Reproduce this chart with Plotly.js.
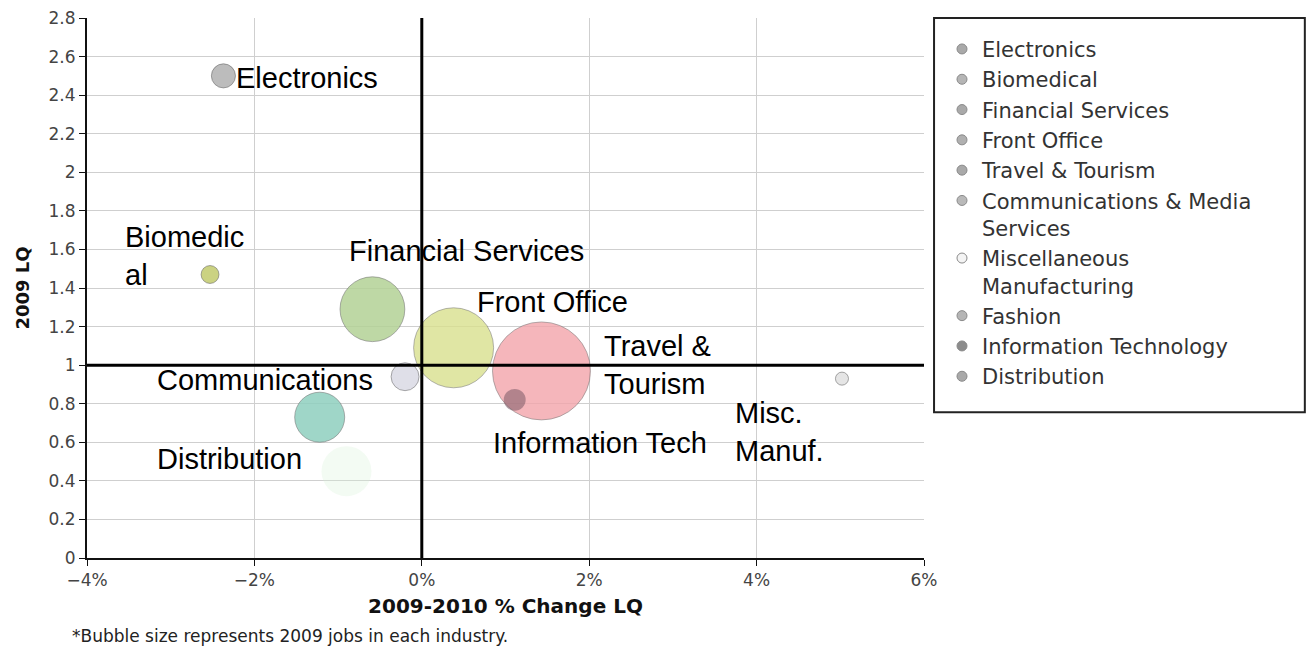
<!DOCTYPE html>
<html>
<head>
<meta charset="utf-8">
<script src="https://cdn.plot.ly/plotly-3.0.1.min.js"></script>
<style>html,body{margin:0;padding:0;background:#fff;}#chart{width:1308px;height:649px;}</style>
</head>
<body>
<div id="chart"></div>
<script>
// ---- data ----
const industries = ['Electronics','Biomedical','Financial Services','Front Office','Travel & Tourism','Communications & Media Services','Miscellaneous Manufacturing','Fashion','Information Technology','Distribution'];
const legendLabels = ['Electronics','Biomedical','Financial Services','Front Office','Travel & Tourism','Communications & Media<br>Services','Miscellaneous<br>Manufacturing','Fashion','Information Technology','Distribution'];
const changeLQ = [-2.37, -2.53, -0.59, 0.38, 1.43, -0.20, 5.02, -0.90, 1.11, -1.22];   // 2009-2010 % change LQ
const lq2009   = [2.50, 1.47, 1.29, 1.09, 0.97, 0.94, 0.93, 0.45, 0.82, 0.73];          // 2009 LQ
const jobs2009 = [5800, 3200, 42000, 64000, 96000, 7800, 1700, 25000, 4800, 25000];     // bubble size (estimated)
const bubbleLabels = ['Electronics','Biomedic<br>al','Financial Services','Front Office','Travel &<br>Tourism','Communications','Misc.<br>Manuf.','','Information Tech','Distribution'];
const xTickVals = [-4, -2, 0, 2, 4, 6];
const xTickText = ['\u22124%', '\u22122%', '0%', '2%', '4%', '6%'];

// ---- style ----
const fillColors = ['#b9b9b9','#c9d07c','#b3d296','#d9e08e','#f3a5ab','#dcdce6','#e4e4e4','#d8f2d8','#7a5a66','#8fd0bf'];
const fillOpac   = [0.95, 0.95, 0.85, 0.8, 0.8, 0.9, 0.95, 0.3, 0.55, 0.85];
const lineW      = [1, 1, 1, 1, 1, 1, 1, 0, 0, 1];
const legendMarkerColors = ['#a9a9a9','#b5b5b5','#a9a9a9','#b0b0b0','#a9a9a9','#b9b9b9','#f4f4f4','#b5b5b5','#8c8c8c','#a9a9a9'];
const labelShift = [[11,-2],[-87,19],[-25,58],[21,46],[61,6],[-250,-3],[-109,-53],[0,0],[-24,-43],[-165,-42]];

const traces = [];
industries.forEach((name, i) => {
  traces.push({
    type: 'scatter', mode: 'markers', name: name, showlegend: false,
    x: [changeLQ[i]], y: [lq2009[i]],
    marker: {
      size: [jobs2009[i]], sizemode: 'area', sizeref: 20,
      color: fillColors[i], opacity: fillOpac[i],
      line: {color: 'rgba(90,90,90,0.55)', width: lineW[i]}
    },
    hoverinfo: 'name'
  });
});
industries.forEach((name, i) => {
  traces.push({
    type: 'scatter', mode: 'markers', name: legendLabels[i], showlegend: true,
    x: [null], y: [null],
    marker: {size: 10, color: legendMarkerColors[i], line: {color: '#8a8a8a', width: 1}}
  });
});

const annotations = industries.map((name, i) => ({
  x: changeLQ[i], y: lq2009[i], xref: 'x', yref: 'y',
  text: bubbleLabels[i], showarrow: false,
  xanchor: 'left', yanchor: 'middle', align: 'left',
  xshift: labelShift[i][0], yshift: labelShift[i][1],
  font: {family: 'Liberation Sans, Arial, sans-serif', size: 29, color: '#000'}
})).filter(a => a.text !== '');

annotations.push({
  xref: 'paper', yref: 'paper', x: -0.02, y: -0.144,
  xanchor: 'left', yanchor: 'middle', showarrow: false,
  text: '*Bubble size represents 2009 jobs in each industry.',
  font: {family: 'DejaVu Sans, Verdana, sans-serif', size: 17, color: '#222'}
});

const layout = {
  width: 1308, height: 649,
  margin: {l: 87, r: 384, t: 18, b: 91},
  paper_bgcolor: '#fff', plot_bgcolor: '#fff',
  showlegend: true,
  xaxis: {
    range: [-4, 6], tickmode: 'array', tickvals: xTickVals, ticktext: xTickText,
    showgrid: true, gridcolor: '#cfcfcf', gridwidth: 1,
    zeroline: false, showline: true, linecolor: '#111', linewidth: 2,
    ticks: 'outside', ticklen: 6, tickcolor: '#111',
    tickfont: {family: 'DejaVu Sans, Verdana, sans-serif', size: 17, color: '#444'},
    title: {text: '2009-2010 % Change LQ', standoff: 10,
            font: {family: 'DejaVu Sans, Verdana, sans-serif', size: 20, color: '#111', weight: 'bold'}},
    fixedrange: true
  },
  yaxis: {
    range: [0, 2.8], dtick: 0.2,
    showgrid: true, gridcolor: '#cfcfcf', gridwidth: 1,
    zeroline: false, showline: true, linecolor: '#111', linewidth: 2,
    ticks: 'outside', ticklen: 6, tickcolor: '#111',
    tickfont: {family: 'DejaVu Sans, Verdana, sans-serif', size: 17, color: '#444'},
    title: {text: '2009 LQ', standoff: 14,
            font: {family: 'DejaVu Sans, Verdana, sans-serif', size: 18, color: '#111', weight: 'bold'}},
    fixedrange: true
  },
  legend: {
    x: 1.0215, y: 0.98, xanchor: 'left', yanchor: 'top',
    bgcolor: 'rgba(0,0,0,0)', borderwidth: 0, valign: 'top',
    font: {family: 'DejaVu Sans, Verdana, sans-serif', size: 21, color: '#333'},
    tracegroupgap: 0
  },
  shapes: [
    {type: 'line', xref: 'x', yref: 'paper', x0: 0, x1: 0, y0: 0, y1: 1, layer: 'above', line: {color: '#000', width: 3}},
    {type: 'line', xref: 'paper', yref: 'y', x0: 0, x1: 1, y0: 1, y1: 1, layer: 'above', line: {color: '#000', width: 3}},
    {type: 'rect', xref: 'paper', yref: 'paper', x0: 1.012, x1: 1.455, y0: 0.270, y1: 1.0, line: {color: '#222', width: 2}, fillcolor: 'rgba(0,0,0,0)'}
  ],
  annotations: annotations,
  hovermode: 'closest'
};

Plotly.newPlot('chart', traces, layout, {displayModeBar: false});
</script>
</body>
</html>
